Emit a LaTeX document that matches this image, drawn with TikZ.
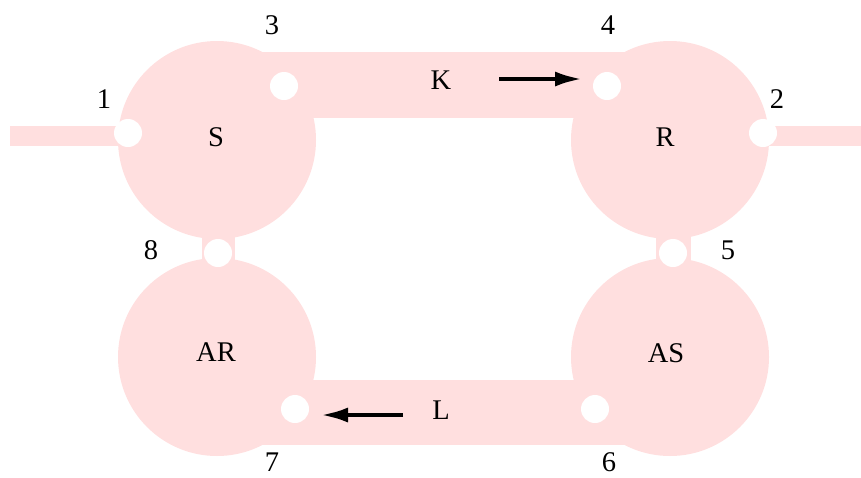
\documentclass[tikz,border=0pt]{standalone}
\usepackage{fontspec}
\setmainfont{Liberation Serif}
\usetikzlibrary{arrows.meta}
\definecolor{zone}{RGB}{255,223,223}
\begin{document}
\begin{tikzpicture}[x=1pt,y=-1pt,
  chamber/.style={circle,fill=zone,minimum size=198pt,inner sep=0pt},
  band/.style={fill=zone},
  port/.style={circle,fill=white,minimum size=28pt,inner sep=0pt},
  tag/.style={font=\fontsize{28.5}{32}\selectfont,inner sep=0pt},
  flow/.style={line width=4.7pt,-{Latex[length=28pt,width=15pt]}}]
\useasboundingbox (0,0) rectangle (861,477);

% channels between the chambers
\fill[band] (217,52) rectangle (670,118);
\fill[band] (217,380) rectangle (670,445);
\fill[band] (202,140) rectangle (235,357);
\fill[band] (656,140) rectangle (691,357);
\fill[band] (10,126) rectangle (128,146);
\fill[band] (763,126) rectangle (861,146);

% chambers
\node[chamber] (S)  at (217,140) {};
\node[chamber] (R)  at (670,140) {};
\node[chamber] (AR) at (217,357) {};
\node[chamber] (AS) at (670,357) {};

% chamber names
\node[tag] (tS)  at (216,137) {S};
\node[tag] (tR)  at (665,137) {R};
\node[tag] (tAR) at (216,352) {AR};
\node[tag] (tAS) at (666,353) {AS};

% ports
\node[port] (p1) at (128,133) {};
\node[port] (p2) at (763,133) {};
\node[port] (p3) at (284,86) {};
\node[port] (p4) at (607,86) {};
\node[port] (p5) at (673,253) {};
\node[port] (p6) at (595,409) {};
\node[port] (p7) at (295,409) {};
\node[port] (p8) at (218,253) {};

% port numbers
\node[tag] (n1) at (104,99) {1};
\node[tag] (n2) at (777,99) {2};
\node[tag] (n3) at (272,25) {3};
\node[tag] (n4) at (608,25) {4};
\node[tag] (n5) at (728,250) {5};
\node[tag] (n6) at (609,462) {6};
\node[tag] (n7) at (272,462) {7};
\node[tag] (n8) at (151,250) {8};

% channel names and flow directions
\node[tag] (K) at (441,80) {K};
\node[tag] (L) at (441,410) {L};
\coordinate (ka) at (499,79);
\coordinate (kb) at (583,79);
\coordinate (la) at (403,415);
\coordinate (lb) at (320,415);
\draw[flow] (ka) -- (kb);
\draw[flow] (la) -- (lb);
\end{tikzpicture}
\end{document}
